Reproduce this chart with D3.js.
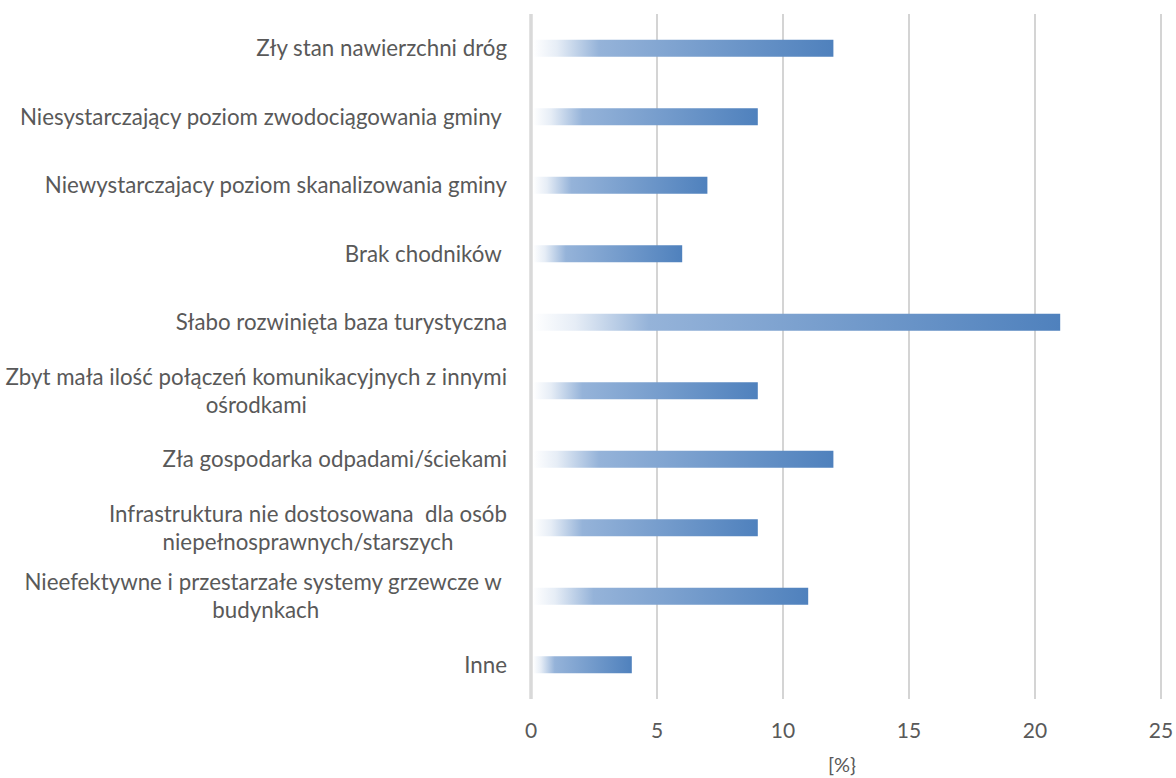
<!DOCTYPE html>
<html><head><meta charset="utf-8">
<script src="https://cdn.jsdelivr.net/npm/d3@7"></script>
<style>body{margin:0;background:#fff} text{white-space:pre}</style>
</head><body>
<svg id="c" width="1176" height="778"></svg>
<script>
const categories = [
  ["Zły stan nawierzchni dróg"],
  ["Niesystarczający poziom zwodociągowania gminy "],
  ["Niewystarczajacy poziom skanalizowania gminy"],
  ["Brak chodników "],
  ["Słabo rozwinięta baza turystyczna"],
  ["Zbyt mała ilość połączeń komunikacyjnych z innymi", "ośrodkami"],
  ["Zła gospodarka odpadami/ściekami"],
  ["Infrastruktura nie dostosowana  dla osób", "niepełnosprawnych/starszych"],
  ["Nieefektywne i przestarzałe systemy grzewcze w ", "budynkach"],
  ["Inne"]
];
const values = [12, 9, 7, 6, 21, 9, 12, 9, 11, 4];
const tickValues = [0, 5, 10, 15, 20, 25];
const axisTitle = "[%}";

(function () {
const svg = d3.select("#c");
const font = "Lato, sans-serif";
const pL = 531, pR = 1161, pT = 14, pB = 699;
const x = d3.scaleLinear().domain([0, 25]).range([pL, pR]);
const y = d3.scaleBand().domain(d3.range(categories.length)).range([pT, pB]);
const barH = 17;

const defs = svg.append("defs");
values.forEach((v, i) => {
  const g = defs.append("linearGradient").attr("id", "g" + i)
    .attr("x1", "0%").attr("x2", "100%").attr("y1", "0%").attr("y2", "0%");
  [[0, "#ffffff"], [0.08, "#e6edf6"], [0.22, "#95b3d9"], [1, "#4f81bd"]].forEach(s =>
    g.append("stop").attr("offset", s[0]).attr("stop-color", s[1]));
});

svg.append("g").selectAll("line").data(tickValues).join("line")
  .attr("x1", d => x(d)).attr("x2", d => x(d))
  .attr("y1", pT).attr("y2", pB)
  .attr("stroke", d => d === 0 ? "#d9d9d9" : "#d0d0d0")
  .attr("stroke-width", d => d === 0 ? 3.5 : 1.8);

svg.append("g").selectAll("rect").data(values).join("rect")
  .attr("x", x(0) + 2)
  .attr("y", (d, i) => y(i) + y.bandwidth() / 2 - barH / 2)
  .attr("width", d => x(d) - x(0) - 2)
  .attr("height", barH)
  .attr("fill", (d, i) => `url(#g${i})`);

const labG = svg.append("g").attr("font-family", font).attr("font-size", 22.3).attr("fill", "#595959");
categories.forEach((lines, i) => {
  const cy = y(i) + y.bandwidth() / 2;
  const lh = 28;
  const t = labG.append("text").attr("text-anchor", "middle");
  const spans = lines.map((ln, k) => t.append("tspan").attr("y", cy + (k - (lines.length - 1) / 2) * lh).attr("dy", "0.35em").text(ln));
  const maxW = d3.max(spans, s => s.node().getComputedTextLength());
  spans.forEach(s => s.attr("x", 507 - maxW / 2));
});

svg.append("g").attr("font-family", font).attr("font-size", 21).attr("fill", "#595959")
  .selectAll("text").data(tickValues).join("text")
  .attr("x", d => x(d)).attr("y", 731).attr("dy", "0.35em")
  .attr("text-anchor", "middle").text(d => d);

svg.append("text").attr("font-family", font).attr("font-size", 20).attr("fill", "#595959")
  .attr("x", 842).attr("y", 765).attr("dy", "0.35em").attr("text-anchor", "middle").text(axisTitle);
})();
</script>
</body></html>
